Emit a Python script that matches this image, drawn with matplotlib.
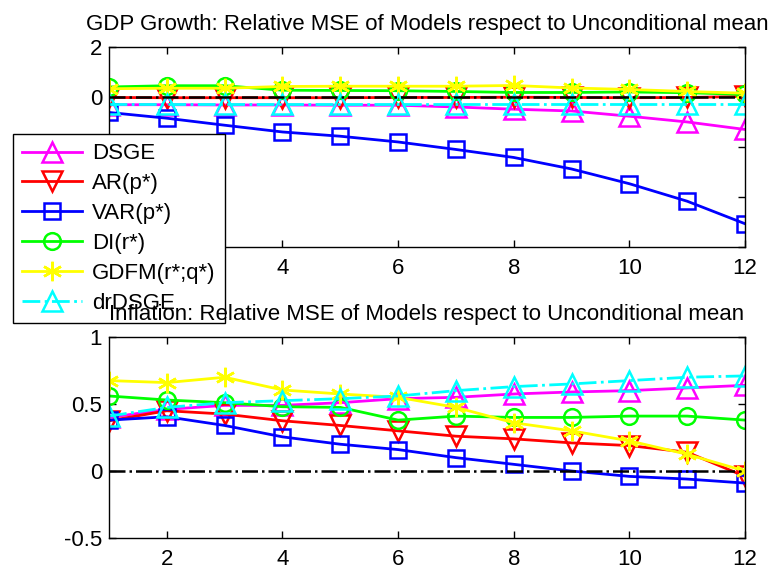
import matplotlib
matplotlib.use('Agg')
import matplotlib.pyplot as plt
from matplotlib.ticker import FuncFormatter

horizons = list(range(1, 13))
labels = ['DSGE', 'AR(p*)', 'VAR(p*)', 'DI(r*)', 'GDFM(r*;q*)', 'drDSGE']

# GDP growth
dsge_gdp = [-0.31, -0.31, -0.32, -0.32, -0.33, -0.33, -0.40, -0.49, -0.56, -0.77, -1.00, -1.30]
ar_gdp = [-0.02, -0.03, -0.03, -0.03, -0.03, -0.02, -0.02, -0.01, -0.02, -0.03, -0.02, 0.02]
var_gdp = [-0.62, -0.85, -1.13, -1.40, -1.57, -1.80, -2.10, -2.42, -2.88, -3.47, -4.17, -5.07]
di_gdp = [0.40, 0.45, 0.45, 0.27, 0.26, 0.25, 0.22, 0.18, 0.18, 0.20, 0.17, 0.10]
gdfm_gdp = [0.33, 0.35, 0.35, 0.42, 0.43, 0.43, 0.43, 0.46, 0.36, 0.30, 0.22, 0.15]
drdsge_gdp = [-0.30, -0.30, -0.30, -0.30, -0.30, -0.30, -0.30, -0.30, -0.30, -0.30, -0.30, -0.30]

# Inflation
dsge_inf = [0.40, 0.46, 0.49, 0.49, 0.51, 0.54, 0.55, 0.575, 0.59, 0.60, 0.62, 0.64]
ar_inf = [0.375, 0.45, 0.425, 0.375, 0.34, 0.30, 0.26, 0.24, 0.21, 0.19, 0.14, -0.04]
var_inf = [0.38, 0.405, 0.34, 0.255, 0.20, 0.16, 0.10, 0.05, 0.00, -0.04, -0.06, -0.09]
di_inf = [0.56, 0.53, 0.51, 0.48, 0.475, 0.38, 0.41, 0.40, 0.40, 0.41, 0.41, 0.38]
gdfm_inf = [0.675, 0.66, 0.70, 0.605, 0.575, 0.55, 0.475, 0.36, 0.30, 0.225, 0.125, 0.0]
drdsge_inf = [0.41, 0.475, 0.51, 0.525, 0.54, 0.56, 0.60, 0.63, 0.65, 0.675, 0.70, 0.71]

# matlab-ish asterisk for GDFM
styles = [
    dict(color='#ff00ff', marker='^', ls='-', ms=14),
    dict(color='#ff0000', marker='v', ls='-', ms=14),
    dict(color='#0000ff', marker='s', ls='-', ms=11),
    dict(color='#00ff00', marker='o', ls='-', ms=12),
    dict(color='#ffff00', marker=(6, 2, 0), ls='-', ms=14),
    dict(color='#00ffff', marker='^', ls='-.', ms=14),
]

plt.rcParams['font.family'] = ['Liberation Sans', 'DejaVu Sans']
plt.rcParams['font.size'] = 16
plt.rcParams['axes.unicode_minus'] = False

fig = plt.figure(figsize=(7.76, 5.70), dpi=100)
ax1 = fig.add_axes([0.1405, 0.5667, 0.8196, 0.3509])
ax2 = fig.add_axes([0.1405, 0.0561, 0.8196, 0.3526])


def draw(ax, series, title, ylim, yticks):
    for vals, st, lab in zip(series, styles, labels):
        ax.plot(horizons, vals, color=st['color'], ls=st['ls'], lw=2,
                marker=st['marker'], markersize=st['ms'], markerfacecolor='none',
                markeredgecolor=st['color'], markeredgewidth=1.8, label=lab)
    ax.axhline(0, color='black', ls='-.', lw=1.8, zorder=5)
    ax.set_xlim(1, 12)
    ax.set_ylim(*ylim)
    ax.set_xticks([2, 4, 6, 8, 10, 12])
    ax.set_yticks(yticks)
    ax.yaxis.set_major_formatter(FuncFormatter(lambda v, p: '%g' % v))
    ax.tick_params(direction='in', top=True, right=True, length=5, width=1,
                   labelsize=16, pad=5)
    ax.tick_params(axis='x', pad=8)
    for s in ax.spines.values():
        s.set_linewidth(1)
    ax.set_title(title, fontsize=16, pad=12)


draw(ax1, [dsge_gdp, ar_gdp, var_gdp, di_gdp, gdfm_gdp, drdsge_gdp],
     'GDP Growth: Relative MSE of Models respect to Unconditional mean',
     (-6, 2), [-6, -4, -2, 0, 2])
draw(ax2, [dsge_inf, ar_inf, var_inf, di_inf, gdfm_inf, drdsge_inf],
     'Inflation: Relative MSE of Models respect to Unconditional mean',
     (-0.5, 1), [-0.5, 0, 0.5, 1])

leg = ax1.legend(loc='upper left', bbox_to_anchor=(13 / 776, 1 - 134 / 570),
                 bbox_transform=fig.transFigure, borderaxespad=0, fancybox=False,
                 framealpha=1, edgecolor='black', fontsize=16, handlelength=2.7,
                 handletextpad=0.45, labelspacing=0.4, borderpad=0.42)
leg.get_frame().set_linewidth(1)

fig.savefig('out.png', dpi=100)
